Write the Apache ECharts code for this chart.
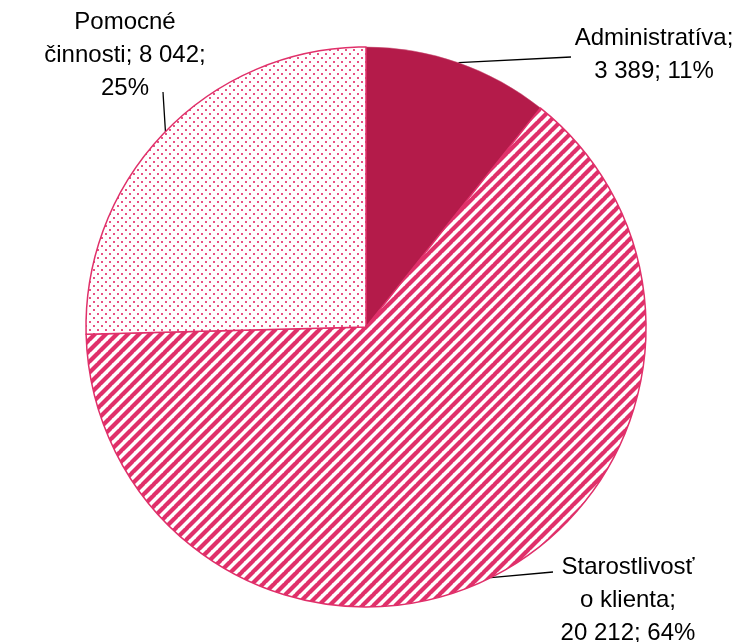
<!DOCTYPE html>
<html>
<head>
<meta charset="utf-8">
<script src="https://cdn.jsdelivr.net/npm/echarts@6/dist/echarts.min.js"></script>
<style>
html,body{margin:0;padding:0;background:#fff;}
#c{width:739px;height:642px;}
</style>
</head>
<body>
<div id="c"></div>
<script>
// ---- data ----
const categories = ['Administratíva', 'Starostlivosť\no klienta', 'Pomocné\nčinnosti'];
const values = [3389, 20212, 8042];
const sepAfterName = ['\n', '\n', ' '];
const sepAfterValue = [' ', ' ', '\n'];

// ---- patterns ----
const PINK = '#E0306A';
function stripes() {
  const c = document.createElement('canvas');
  c.width = 11; c.height = 11;
  const g = c.getContext('2d');
  g.fillStyle = '#fff'; g.fillRect(0, 0, 11, 11);
  g.strokeStyle = PINK; g.lineWidth = 4.2;
  for (let k = -11; k <= 11; k += 11) {
    g.beginPath(); g.moveTo(k - 1, 12); g.lineTo(k + 12, -1); g.stroke();
  }
  return c;
}
function dots() {
  const c = document.createElement('canvas');
  c.width = 8; c.height = 8;
  const g = c.getContext('2d');
  g.fillStyle = '#fff'; g.fillRect(0, 0, 8, 8);
  g.fillStyle = 'rgba(228,52,110,0.85)';
  g.fillRect(1, 1, 2, 2); g.fillRect(5, 5, 2, 2);
  return c;
}
const fills = [
  '#B41B4A',
  { image: stripes(), repeat: 'repeat' },
  { image: dots(), repeat: 'repeat' }
];
const borders = [
  { borderColor: '#C94a70', borderWidth: 0.5 },
  { borderColor: PINK, borderWidth: 1.5 },
  { borderColor: PINK, borderWidth: 1.5 }
];

const total = values.reduce((a, b) => a + b, 0);
function fmt(v) { return String(v).replace(/\B(?=(\d{3})+(?!\d))/g, ' '); }

const chart = echarts.init(document.getElementById('c'), null, { renderer: 'canvas' });
chart.setOption({
  backgroundColor: '#fff',
  animation: false,
  series: [{
    type: 'pie',
    center: [366, 327],
    radius: 280,
    startAngle: 90,
    clockwise: true,
    avoidLabelOverlap: false,
    data: categories.map((n, i) => ({
      name: n,
      value: values[i],
      itemStyle: Object.assign({ color: fills[i] }, borders[i])
    })),
    label: {
      show: true,
      color: '#000',
      fontFamily: '"Liberation Sans", Arial, sans-serif',
      fontSize: 24,
      lineHeight: 33,
      align: 'center',
      overflow: 'none',
      width: 400,
      formatter: function (p) {
        const i = p.dataIndex;
        const pct = Math.round(p.value / total * 100);
        return p.name + ';' + sepAfterName[i] + fmt(p.value) + ';' + sepAfterValue[i] + pct + '%';
      }
    },
    labelLine: {
      show: true,
      length: 10,
      length2: 10,
      lineStyle: { color: '#000', width: 1.3 }
    },
    labelLayout: function (params) {
      const p0 = params.labelLinePoints ? params.labelLinePoints[0] : [0, 0];
      const i = params.dataIndex;
      if (i === 0) {
        return { x: 654, y: 55, align: 'center', verticalAlign: 'middle',
          labelLinePoints: [p0, [571, 57], [571, 57]] };
      } else if (i === 1) {
        return { x: 628, y: 600, align: 'center', verticalAlign: 'middle',
          labelLinePoints: [p0, [553, 572], [553, 572]] };
      } else {
        return { x: 125, y: 55, align: 'center', verticalAlign: 'middle',
          labelLinePoints: [p0, [163, 92], [163, 92]] };
      }
    }
  }]
});
</script>
</body>
</html>
